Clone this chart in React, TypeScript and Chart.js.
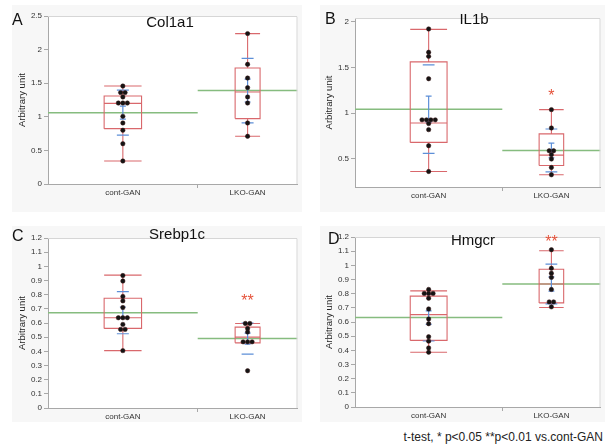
import React, { useEffect, useRef } from 'react';
import { Chart, registerables } from 'chart.js';

Chart.register(...registerables);

const FONT = '"Liberation Sans", Arial, Helvetica, sans-serif';

// ---------- data ----------
const categories = ['cont-GAN', 'LKO-GAN'];
const groupSizes = [12, 8];

const col1a1Cont = [1.458, 1.36, 1.36, 1.295, 1.205, 1.205, 1.205, 1.007, 0.908, 0.8, 0.6, 0.342];
const col1a1ContSlot = [0, -0.5, 0.5, 0, -1, 0, 1, 0, 0, 0, 0, 0];
const col1a1Lko = [2.238, 1.781, 1.577, 1.434, 1.295, 1.205, 0.908, 0.71];
const col1a1LkoSlot = [0, 0, 0, 0, 0, 0, 0, 0];
// [q1, median, q3, whiskerLow, whiskerHigh]
const col1a1Box = [[0.824, 1.2, 1.31, 0.342, 1.458], [0.973, 1.37, 1.726, 0.71, 2.238]];
const col1a1Mean = [1.062, 1.39];
const col1a1SD = [0.334, 0.479];
const col1a1SE = [0.097, 0.17];
const col1a1Ticks = [0, 0.5, 1, 1.5, 2, 2.5];

const il1bCont = [1.92, 1.665, 1.62, 1.375, 0.925, 0.925, 0.925, 0.925, 0.884, 0.818, 0.642, 0.36];
const il1bContSlot = [0, 0, 0, 0, -1.5, -0.5, 0.5, 1.5, 0, 0, 0, 0];
const il1bLko = [1.037, 0.836, 0.587, 0.587, 0.544, 0.496, 0.404, 0.324];
const il1bLkoSlot = [0, 0, -0.5, 0.5, 0, 0, 0, 0];
const il1bBox = [[0.678, 0.891, 1.56, 0.36, 1.915], [0.426, 0.539, 0.771, 0.324, 1.037]];
const il1bMean = [1.042, 0.59];
const il1bSD = [0.485, 0.235];
const il1bSE = [0.142, 0.08];
const il1bTicks = [0.5, 1, 1.5, 2];
const il1bSig = ['', '*'];
const il1bSigY = [null, 1.21];

const srebpCont = [0.935, 0.896, 0.787, 0.756, 0.709, 0.637, 0.637, 0.637, 0.59, 0.555, 0.555, 0.405];
const srebpContSlot = [0, 0, 0, 0, 0, -1, 0, 1, 0, -0.5, 0.5, 0];
const srebpLko = [0.597, 0.597, 0.562, 0.536, 0.467, 0.467, 0.467, 0.263];
const srebpLkoSlot = [-0.5, 0.5, 0, 0, -1, 0, 1, 0];
const srebpBox = [[0.562, 0.637, 0.775, 0.405, 0.938], [0.46, 0.5, 0.571, 0.46, 0.597]];
const srebpMean = [0.673, 0.49];
const srebpSD = [0.149, 0.11];
const srebpSE = [0.04, 0.039];
const srebpSig = ['', '**'];
const srebpSigY = [null, 0.775];

const hmgcrCont = [0.83, 0.802, 0.802, 0.802, 0.768, 0.692, 0.621, 0.588, 0.496, 0.465, 0.417, 0.387];
const hmgcrContSlot = [0, -1, 0, 1, 0, 0, 0, 0, 0, 0, 0, 0];
const hmgcrLko = [1.11, 0.979, 0.944, 0.915, 0.83, 0.742, 0.742, 0.707];
const hmgcrLkoSlot = [0, 0, 0, 0, 0, -0.5, 0.5, 0];
const hmgcrBox = [[0.47, 0.652, 0.783, 0.387, 0.82], [0.735, 0.868, 0.972, 0.702, 1.103]];
const hmgcrMean = [0.631, 0.868];
const hmgcrSD = [0.165, 0.14];
const hmgcrSE = [0.048, 0.05];
const hmgcrSig = ['', '**'];
const hmgcrSigY = [null, 1.18];

const smallTicks = [0, 0.1, 0.2, 0.3, 0.4, 0.5, 0.6, 0.7, 0.8, 0.9, 1, 1.1, 1.2];

const footnote = 't-test, * p<0.05 **p<0.01 vs.cont-GAN';

type PanelData = {
  letter: string; title: string; yMin: number; yMax: number; yTicks: number[];
  cont: number[]; contSlot: number[]; lko: number[]; lkoSlot: number[];
  box: number[][]; mean: number[]; sd: number[]; se: number[];
  sig: string[]; sigY: (number | null)[];
};

const panels: PanelData[] = [
  { letter: 'A', title: 'Col1a1', yMin: 0, yMax: 2.5, yTicks: col1a1Ticks, cont: col1a1Cont, contSlot: col1a1ContSlot, lko: col1a1Lko, lkoSlot: col1a1LkoSlot, box: col1a1Box, mean: col1a1Mean, sd: col1a1SD, se: col1a1SE, sig: ['', ''], sigY: [null, null] },
  { letter: 'B', title: 'IL1b', yMin: 0.19, yMax: 2.04, yTicks: il1bTicks, cont: il1bCont, contSlot: il1bContSlot, lko: il1bLko, lkoSlot: il1bLkoSlot, box: il1bBox, mean: il1bMean, sd: il1bSD, se: il1bSE, sig: il1bSig, sigY: il1bSigY },
  { letter: 'C', title: 'Srebp1c', yMin: 0, yMax: 1.2, yTicks: smallTicks, cont: srebpCont, contSlot: srebpContSlot, lko: srebpLko, lkoSlot: srebpLkoSlot, box: srebpBox, mean: srebpMean, sd: srebpSD, se: srebpSE, sig: srebpSig, sigY: srebpSigY },
  { letter: 'D', title: 'Hmgcr', yMin: 0, yMax: 1.2, yTicks: smallTicks, cont: hmgcrCont, contSlot: hmgcrContSlot, lko: hmgcrLko, lkoSlot: hmgcrLkoSlot, box: hmgcrBox, mean: hmgcrMean, sd: hmgcrSD, se: hmgcrSE, sig: hmgcrSig, sigY: hmgcrSigY },
];

// ---------- layout ----------
type Layout = { left: number; top: number; width: number; height: number; padTop: number; padRight: number; yWidth: number; xHeight: number; letterX: number; letterY: number; titleX: number; titleY: number };
const layouts: Layout[] = [
  { left: 12, top: 5, width: 290, height: 207, padTop: 11, padRight: 4, yWidth: 36, xHeight: 28, letterX: 0, letterY: 16, titleX: 158, titleY: 18 },
  { left: 320, top: 5, width: 285, height: 207, padTop: 13, padRight: 0, yWidth: 35, xHeight: 25, letterX: 5, letterY: 15, titleX: 154, titleY: 15 },
  { left: 12, top: 226, width: 290, height: 196, padTop: 12, padRight: 4, yWidth: 36, xHeight: 14, letterX: 0, letterY: 11, titleX: 165, titleY: 9 },
  { left: 320, top: 226, width: 285, height: 196, padTop: 11, padRight: 0, yWidth: 35, xHeight: 15, letterX: 8, letterY: 14, titleX: 153, titleY: 15 },
];

const total = groupSizes[0] + groupSizes[1];
const seps = [0, groupSizes[0], total];
const centers = [groupSizes[0] / 2, groupSizes[0] + groupSizes[1] / 2];
const boxHalf = groupSizes.map((n) => n * 0.125);
const DOT_STEP = 0.36;
const SD_HALF = 0.48;
const SE_HALF = 0.24;

const RED = '#d9686c';
const BLUE = '#5d8fd8';
const GREEN = '#86bc7f';
const AXIS = '#a8a8a8';

function gap(g: number) {
  return { x: centers[g], y: null as any };
}

function redSegments(box: number[][]) {
  const out: any[] = [];
  box.forEach(([q1, med, q3, lo, hi], g) => {
    const c = centers[g];
    const h = boxHalf[g];
    out.push({ x: c - h, y: q1 }, { x: c + h, y: q1 }, { x: c + h, y: q3 }, { x: c - h, y: q3 }, { x: c - h, y: q1 }, gap(g));
    out.push({ x: c - h, y: med }, { x: c + h, y: med }, gap(g));
    out.push({ x: c, y: q3 }, { x: c, y: hi }, gap(g));
    out.push({ x: c - h, y: hi }, { x: c + h, y: hi }, gap(g));
    out.push({ x: c, y: q1 }, { x: c, y: lo }, gap(g));
    out.push({ x: c - h, y: lo }, { x: c + h, y: lo }, gap(g));
  });
  return out;
}

function blueSegments(mean: number[], sd: number[], se: number[]) {
  const out: any[] = [];
  mean.forEach((m, g) => {
    const c = centers[g];
    out.push({ x: c - SD_HALF, y: m + sd[g] }, { x: c + SD_HALF, y: m + sd[g] }, gap(g));
    out.push({ x: c - SD_HALF, y: m - sd[g] }, { x: c + SD_HALF, y: m - sd[g] }, gap(g));
    out.push({ x: c, y: m - se[g] }, { x: c, y: m + se[g] }, gap(g));
    out.push({ x: c - SE_HALF, y: m + se[g] }, { x: c + SE_HALF, y: m + se[g] }, gap(g));
    out.push({ x: c - SE_HALF, y: m - se[g] }, { x: c + SE_HALF, y: m - se[g] }, gap(g));
  });
  return out;
}

function greenSegments(mean: number[]) {
  const out: any[] = [];
  mean.forEach((m, g) => {
    out.push({ x: seps[g], y: m }, { x: seps[g + 1], y: m }, gap(g));
  });
  return out;
}

function dots(vals: number[], slots: number[], g: number) {
  return vals.map((v, i) => ({ x: centers[g] + slots[i] * DOT_STEP, y: v }));
}

const decoPlugin = {
  id: 'panelDeco',
  beforeDraw(chart: any) {
    const { ctx, chartArea: a } = chart;
    ctx.save();
    ctx.fillStyle = '#ffffff';
    ctx.fillRect(a.left, a.top, a.right - a.left, a.bottom - a.top);
    ctx.restore();
  },
  afterDraw(chart: any, _args: any, opts: any) {
    const { ctx, chartArea: a } = chart;
    const p: PanelData = opts.panel;
    const l: Layout = opts.layout;
    ctx.save();
    ctx.strokeStyle = '#d6d6d6';
    ctx.lineWidth = 1;
    ctx.beginPath();
    ctx.moveTo(a.left, a.top + 0.5);
    ctx.lineTo(a.right - 0.5, a.top + 0.5);
    ctx.lineTo(a.right - 0.5, a.bottom);
    ctx.stroke();
    ctx.fillStyle = '#111';
    ctx.font = `16px ${FONT}`;
    ctx.textAlign = 'left';
    ctx.textBaseline = 'middle';
    ctx.fillText(p.letter, l.letterX, l.letterY);
    ctx.font = `15px ${FONT}`;
    ctx.textAlign = 'center';
    ctx.fillText(p.title, l.titleX, l.titleY);
    ctx.save();
    ctx.translate(a.left - 26, (a.top + a.bottom) / 2);
    ctx.rotate(-Math.PI / 2);
    ctx.font = `9.5px ${FONT}`;
    ctx.fillStyle = '#222';
    ctx.textAlign = 'center';
    ctx.textBaseline = 'middle';
    ctx.fillText('Arbitrary unit', 0, 0);
    ctx.restore();
    const xs = chart.scales.x;
    const ys = chart.scales.y;
    ctx.fillStyle = '#e5533b';
    ctx.font = `16px ${FONT}`;
    ctx.textAlign = 'center';
    ctx.textBaseline = 'middle';
    p.sig.forEach((s, g) => {
      const v = p.sigY[g];
      if (!s || v == null) return;
      ctx.fillText(s, xs.getPixelForValue(centers[g]), ys.getPixelForValue(v) + 3);
    });
    ctx.restore();
  },
};

function PanelChart({ panel, layout }: { panel: PanelData; layout: Layout }) {
  const ref = useRef<HTMLCanvasElement | null>(null);
  useEffect(() => {
    if (!ref.current) return;
    const chart = new Chart(ref.current, {
      type: 'scatter',
      data: {
        datasets: [
          {
            type: 'scatter',
            data: [...dots(panel.cont, panel.contSlot, 0), ...dots(panel.lko, panel.lkoSlot, 1)],
            pointRadius: 2.2,
            pointBackgroundColor: '#141414',
            pointBorderColor: '#3b1515',
            pointBorderWidth: 0.5,
            order: 0,
          } as any,
          {
            type: 'line',
            data: blueSegments(panel.mean, panel.sd, panel.se),
            borderColor: BLUE,
            borderWidth: 1.2,
            pointRadius: 0,
            spanGaps: false,
            fill: false,
            tension: 0,
            order: 1,
          } as any,
          {
            type: 'line',
            data: redSegments(panel.box),
            borderColor: RED,
            borderWidth: 1.1,
            pointRadius: 0,
            spanGaps: false,
            fill: false,
            tension: 0,
            order: 2,
          } as any,
          {
            type: 'line',
            data: greenSegments(panel.mean),
            borderColor: GREEN,
            borderWidth: 1.5,
            pointRadius: 0,
            spanGaps: false,
            fill: false,
            tension: 0,
            order: 3,
          } as any,
        ],
      },
      options: {
        responsive: false,
        animation: false,
        events: [],
        layout: { padding: { left: 0, top: layout.padTop, right: layout.padRight, bottom: 0 } },
        plugins: {
          legend: { display: false },
          tooltip: { enabled: false },
          title: { display: false },
          panelDeco: { panel, layout },
        } as any,
        scales: {
          x: {
            type: 'linear',
            min: 0,
            max: total,
            afterBuildTicks: (s: any) => {
              s.ticks = [{ value: centers[0] }, { value: seps[1] }, { value: centers[1] }];
            },
            afterFit: (s: any) => {
              s.height = layout.xHeight;
            },
            ticks: {
              autoSkip: false,
              maxRotation: 0,
              padding: 0,
              font: { family: FONT, size: 8 },
              color: '#333',
              callback: (v: any) => (v === centers[0] ? categories[0] : v === centers[1] ? categories[1] : ''),
            },
            grid: {
              drawOnChartArea: false,
              tickLength: 4,
              tickColor: (ctx: any) => (ctx.tick && ctx.tick.value === seps[1] ? AXIS : 'rgba(0,0,0,0)'),
            },
            border: { color: AXIS, width: 1 },
          },
          y: {
            type: 'linear',
            min: panel.yMin,
            max: panel.yMax,
            afterBuildTicks: (s: any) => {
              s.ticks = panel.yTicks.map((v) => ({ value: v }));
            },
            afterFit: (s: any) => {
              s.width = layout.yWidth;
            },
            ticks: {
              autoSkip: false,
              padding: 2,
              font: { family: FONT, size: 8 },
              color: '#333',
              callback: (v: any) => String(Number(Number(v).toFixed(2))),
            },
            grid: { drawOnChartArea: false, tickLength: 4, tickColor: AXIS },
            border: { color: AXIS, width: 1 },
          },
        },
      } as any,
      plugins: [decoPlugin as any],
    });
    return () => chart.destroy();
  }, [panel, layout]);

  return (
    <div
      style={{
        position: 'absolute',
        left: layout.left,
        top: layout.top,
        width: layout.width,
        height: layout.height,
        background: '#f7f7f7',
      }}
    >
      <canvas ref={ref} width={layout.width} height={layout.height} style={{ display: 'block', width: layout.width, height: layout.height }} />
    </div>
  );
}

export default function App() {
  return (
    <div
      style={{
        position: 'fixed',
        left: 0,
        top: 0,
        width: 605,
        height: 445,
        background: '#ffffff',
        overflow: 'hidden',
      }}
    >
      {panels.map((p, i) => (
        <PanelChart key={p.letter} panel={p} layout={layouts[i]} />
      ))}
      <div
        style={{
          position: 'absolute',
          right: 2,
          top: 430,
          fontFamily: FONT,
          fontSize: 12,
          lineHeight: '15px',
          color: '#222',
          whiteSpace: 'nowrap',
        }}
      >
        {footnote}
      </div>
    </div>
  );
}
